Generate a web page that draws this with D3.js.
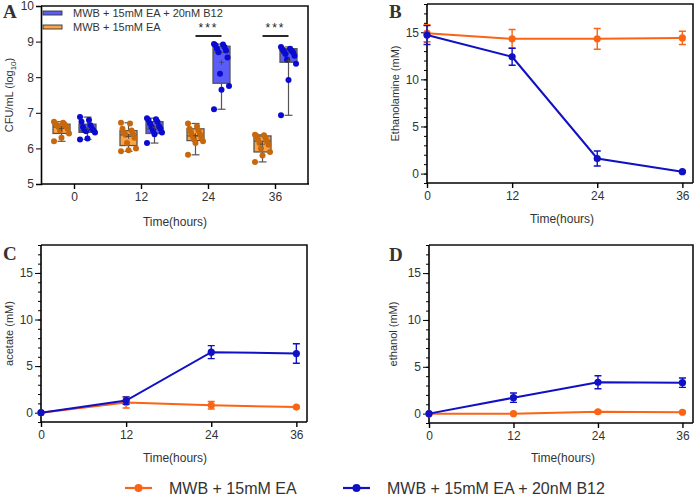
<!DOCTYPE html>
<html>
<head>
<meta charset="utf-8">
<script src="https://cdn.jsdelivr.net/npm/d3@7"></script>
<style>
  body { margin: 0; background: #fff; }
  svg { display: block; font-family: "Liberation Sans", Arial, sans-serif; }
</style>
</head>
<body>
<svg id="chart" width="700" height="498"></svg>
<script>
// time points (hours)
var times = [0, 12, 24, 36];
var seriesNames = ["MWB + 15mM EA", "MWB + 15mM EA + 20nM B12"];

// panel A box stats, log10 CFU/mL
var eaMin = [6.2, 5.92, 5.82, 5.62];
var eaQ1 = [6.42, 6.08, 6.22, 5.9];
var eaMed = [6.6, 6.38, 6.35, 6.2];
var eaQ3 = [6.68, 6.5, 6.55, 6.35];
var eaMax = [6.75, 6.72, 6.7, 6.38];
var b12Min = [6.25, 6.15, 7.1, 6.93];
var b12Q1 = [6.45, 6.42, 7.83, 8.42];
var b12Med = [6.5, 6.55, 8.7, 8.68];
var b12Q3 = [6.68, 6.75, 8.87, 8.8];
var b12Max = [6.88, 6.85, 8.93, 8.85];

// panel A individual replicates
var eaPoints = [
    [6.2, 6.3, 6.42, 6.5, 6.55, 6.6, 6.62, 6.65, 6.68, 6.7, 6.72, 6.75],
    [5.92, 5.95, 6.0, 6.15, 6.3, 6.38, 6.4, 6.45, 6.5, 6.55, 6.7, 6.72],
    [5.82, 6.15, 6.2, 6.25, 6.3, 6.35, 6.4, 6.45, 6.5, 6.55, 6.62, 6.7],
    [5.62, 5.8, 5.9, 6.0, 6.1, 6.15, 6.2, 6.25, 6.3, 6.35, 6.37, 6.38]
];
var b12Points = [
    [6.25, 6.28, 6.45, 6.48, 6.5, 6.52, 6.55, 6.6, 6.65, 6.75, 6.8, 6.88],
    [6.15, 6.4, 6.45, 6.5, 6.55, 6.6, 6.62, 6.7, 6.75, 6.8, 6.82, 6.85],
    [7.1, 7.65, 7.75, 8.1, 8.55, 8.7, 8.75, 8.8, 8.85, 8.9, 8.92, 8.93],
    [6.93, 7.92, 8.38, 8.5, 8.6, 8.65, 8.7, 8.72, 8.75, 8.78, 8.8, 8.85]
];
var signifTimes = [24, 36];

// panel B-D means and errors (mM)
var ethanolamineEA = [14.9, 14.3, 14.3, 14.4];
var ethanolamineEAErr = [0.9, 1.0, 1.1, 0.7];
var ethanolamineB12 = [14.7, 12.4, 1.6, 0.2];
var ethanolamineB12Err = [1.0, 0.9, 0.8, 0.1];
var acetateEA = [0, 1.1, 0.8, 0.6];
var acetateEAErr = [0, 0.6, 0.4, 0.1];
var acetateB12 = [0, 1.3, 6.5, 6.35];
var acetateB12Err = [0, 0.4, 0.7, 1.05];
var ethanolEA = [0, 0.0, 0.2, 0.15];
var ethanolEAErr = [0, 0, 0.1, 0.1];
var ethanolB12 = [0, 1.7, 3.35, 3.3];
var ethanolB12Err = [0, 0.5, 0.7, 0.5];

var orange = "#fa6414";
var blue = "#1010c4";

var svg = d3.select("#chart");

// ---------- panel A: box plots ----------
var aLeft = 41, aRight = 308, aTop = 6, aBottom = 184;

var xA = d3.scaleBand()
    .domain(times)
    .range([aLeft, aRight + 1]);
var subA = d3.scalePoint().domain(["ea", "b12"]).range([-13, 13]);
var yA = d3.scaleLinear().domain([5, 10]).range([aBottom, aTop]);

var gA = svg.append("g");

// frame top/right
gA.append("path")
    .attr("d", "M" + aLeft + "," + aTop + "H" + aRight + "V" + aBottom)
    .attr("fill", "none").attr("stroke", "#111").attr("stroke-width", 1.6);

gA.append("g")
    .attr("transform", "translate(" + aLeft + ",0)")
    .call(d3.axisLeft(yA).ticks(5).tickSize(5).tickPadding(2))
    .call(function (g) {
        g.select(".domain").attr("stroke-width", 1.6);
        g.selectAll("text").style("font-size", "12px").attr("fill", "#333");
    });

gA.append("g")
    .attr("transform", "translate(0," + aBottom + ")")
    .call(d3.axisBottom(xA).tickSize(5).tickPadding(3))
    .call(function (g) {
        g.select(".domain").attr("stroke-width", 1.6).attr("d", "M" + aLeft + ",0H" + (aRight + 1));
        g.selectAll("line").attr("stroke-width", 1.4);
        g.selectAll("text").style("font-size", "12px").attr("fill", "#333");
    });

var boxSeries = [
    { key: "ea", min: eaMin, q1: eaQ1, med: eaMed, q3: eaQ3, max: eaMax, pts: eaPoints, fill: "#fca443", dot: "#c8680c" },
    { key: "b12", min: b12Min, q1: b12Q1, med: b12Med, q3: b12Q3, max: b12Max, pts: b12Points, fill: "#5b5bf8", dot: "#0a0ad0" }
];

var boxW = 17;
boxSeries.forEach(function (s) {
    times.forEach(function (t, i) {
        var cx = xA(t) + xA.bandwidth() / 2 + subA(s.key);
        var g = gA.append("g");
        // whisker
        g.append("line")
            .attr("x1", cx).attr("x2", cx)
            .attr("y1", yA(s.min[i])).attr("y2", yA(s.max[i]))
            .attr("stroke", "#555").attr("stroke-width", 1.2);
        [s.min[i], s.max[i]].forEach(function (v) {
            g.append("line")
                .attr("x1", cx - 4).attr("x2", cx + 4)
                .attr("y1", yA(v)).attr("y2", yA(v))
                .attr("stroke", "#555").attr("stroke-width", 1.2);
        });
        g.append("rect")
            .attr("x", cx - boxW / 2)
            .attr("y", yA(s.q3[i]))
            .attr("width", boxW)
            .attr("height", yA(s.q1[i]) - yA(s.q3[i]))
            .attr("fill", s.fill)
            .attr("stroke", "#555").attr("stroke-width", 1.3);
        g.append("line")
            .attr("x1", cx - boxW / 2).attr("x2", cx + boxW / 2)
            .attr("y1", yA(s.med[i])).attr("y2", yA(s.med[i]))
            .attr("stroke", "#555").attr("stroke-width", 1.3);
        // jittered replicates
        g.selectAll("circle")
            .data(s.pts[i])
            .enter()
            .append("circle")
            .attr("cx", function (d, j) { return cx + ((j * 5) % 11 - 5) * 1.5; })
            .attr("cy", function (d) { return yA(d); })
            .attr("r", 3)
            .attr("fill", s.dot);
        // mean marker
        var m = d3.mean(s.pts[i]);
        g.append("path")
            .attr("d", "M" + (cx - 2.5) + "," + yA(m) + "H" + (cx + 2.5) + "M" + cx + "," + (yA(m) - 2.5) + "V" + (yA(m) + 2.5))
            .attr("stroke", "#444").attr("stroke-width", 0.8);
    });
});

// significance marks
signifTimes.forEach(function (t) {
    var cx = xA(t) + xA.bandwidth() / 2;
    gA.append("line")
        .attr("x1", cx - 13).attr("x2", cx + 13)
        .attr("y1", 36).attr("y2", 36)
        .attr("stroke", "#111").attr("stroke-width", 1.8);
    gA.append("text")
        .attr("x", cx).attr("y", 32)
        .attr("text-anchor", "middle")
        .style("font-size", "12px")
        .style("letter-spacing", "2px")
        .attr("fill", "#222")
        .text("***");
});

// panel A legend
var legA = [
    { name: seriesNames[1], fill: "#5b5bf8" },
    { name: seriesNames[0], fill: "#fca443" }
];
legA.forEach(function (d, i) {
    gA.append("rect")
        .attr("x", 43).attr("y", 11 + i * 14)
        .attr("width", 19).attr("height", 4)
        .attr("fill", d.fill)
        .attr("stroke", "#333").attr("stroke-width", 0.9);
    gA.append("text")
        .attr("x", 73).attr("y", 17 + i * 14)
        .style("font-size", "11px")
        .attr("fill", "#333")
        .text(d.name);
});

gA.append("text")
    .attr("x", 175).attr("y", 226)
    .attr("text-anchor", "middle")
    .style("font-size", "12px")
    .attr("fill", "#333")
    .text("Time(hours)");

var yLabA = gA.append("text")
    .attr("transform", "translate(13,95) rotate(-90)")
    .attr("text-anchor", "middle")
    .style("font-size", "11px")
    .attr("fill", "#333");
yLabA.append("tspan").text("CFU/mL (log");
yLabA.append("tspan").attr("dy", 3).style("font-size", "8px").text("10");
yLabA.append("tspan").attr("dy", -3).text(")");

// ---------- panels B-D: line plots ----------
function linePanel(p) {
    var x = d3.scaleLinear().domain([0, 37.5]).range([p.left, p.right]);
    var y = d3.scaleLinear().domain([-1, 18]).range([p.bottom, p.top]);
    var g = svg.append("g");

    g.append("path")
        .attr("d", "M" + p.left + "," + p.top + "H" + p.right + "V" + p.bottom)
        .attr("fill", "none").attr("stroke", "#111").attr("stroke-width", 1.6);

    // minor ticks every 1 mM
    g.append("g")
        .attr("transform", "translate(" + p.left + ",0)")
        .call(d3.axisLeft(y).tickValues(d3.range(-1, 19)).tickSize(3).tickFormat(""))
        .call(function (a) { a.select(".domain").remove(); });

    g.append("g")
        .attr("transform", "translate(" + p.left + ",0)")
        .call(d3.axisLeft(y).tickValues([0, 5, 10, 15]).tickSize(6).tickPadding(2))
        .call(function (a) {
            a.select(".domain").attr("stroke-width", 1.6).attr("d", "M0," + p.top + "V" + p.bottom);
            a.selectAll("text").style("font-size", "12px").attr("fill", "#333");
        });

    g.append("g")
        .attr("transform", "translate(0," + p.bottom + ")")
        .call(d3.axisBottom(x).tickValues(times).tickSize(5).tickPadding(3))
        .call(function (a) {
            a.select(".domain").attr("stroke-width", 1.6).attr("d", "M" + p.left + ",0H" + p.right);
            a.selectAll("line").attr("stroke-width", 1.4);
            a.selectAll("text").style("font-size", "12px").attr("fill", "#333");
        });

    var line = d3.line()
        .x(function (d) { return x(d.t); })
        .y(function (d) { return y(d.v); });

    [
        { vals: p.ea, errs: p.eaErr, color: orange },
        { vals: p.b12, errs: p.b12Err, color: blue }
    ].forEach(function (s) {
        var pts = times.map(function (t, i) { return { t: t, v: s.vals[i], e: s.errs[i] }; });
        g.append("path")
            .datum(pts)
            .attr("d", line)
            .attr("fill", "none")
            .attr("stroke", s.color)
            .attr("stroke-width", 2);
        g.selectAll(null)
            .data(pts.filter(function (d) { return d.e > 0; }))
            .enter()
            .append("path")
            .attr("d", function (d) {
                var cx = x(d.t), y1 = y(d.v + d.e), y2 = y(d.v - d.e);
                return "M" + cx + "," + y1 + "V" + y2 +
                    "M" + (cx - 3.5) + "," + y1 + "H" + (cx + 3.5) +
                    "M" + (cx - 3.5) + "," + y2 + "H" + (cx + 3.5);
            })
            .attr("fill", "none")
            .attr("stroke", s.color)
            .attr("stroke-width", 1.4);
        g.selectAll(null)
            .data(pts)
            .enter()
            .append("circle")
            .attr("cx", function (d) { return x(d.t); })
            .attr("cy", function (d) { return y(d.v); })
            .attr("r", 3.6)
            .attr("fill", s.color);
    });

    g.append("text")
        .attr("x", p.xLabelX).attr("y", p.xLabelY)
        .attr("text-anchor", "middle")
        .style("font-size", "12px")
        .attr("fill", "#333")
        .text("Time(hours)");

    g.append("text")
        .attr("transform", "translate(" + p.yLabelX + "," + ((p.top + p.bottom) / 2) + ") rotate(-90)")
        .attr("text-anchor", "middle")
        .style("font-size", "11px")
        .attr("fill", "#333")
        .text(p.yLabel);
}

linePanel({
    left: 427, right: 693, top: 4, bottom: 183,
    ea: ethanolamineEA, eaErr: ethanolamineEAErr, b12: ethanolamineB12, b12Err: ethanolamineB12Err,
    yLabel: "Ethanolamine (mM)", yLabelX: 399, xLabelX: 562, xLabelY: 223
});
linePanel({
    left: 41, right: 307, top: 245, bottom: 422,
    ea: acetateEA, eaErr: acetateEAErr, b12: acetateB12, b12Err: acetateB12Err,
    yLabel: "acetate (mM)", yLabelX: 13, xLabelX: 175, xLabelY: 462
});
linePanel({
    left: 429, right: 693, top: 245, bottom: 423,
    ea: ethanolEA, eaErr: ethanolEAErr, b12: ethanolB12, b12Err: ethanolB12Err,
    yLabel: "ethanol (mM)", yLabelX: 397, xLabelX: 563, xLabelY: 462
});

// panel letters
[["A", 3, 18], ["B", 389, 18], ["C", 3, 260], ["D", 389, 261]].forEach(function (d) {
    svg.append("text")
        .attr("x", d[1]).attr("y", d[2])
        .style("font-family", "'Liberation Serif', 'DejaVu Serif', serif")
        .style("font-weight", "bold")
        .style("font-size", "19px")
        .attr("fill", "#333")
        .text(d[0]);
});

// shared legend at the bottom
var legend = svg.append("g");
[
    { name: seriesNames[0], color: orange, x: 125 },
    { name: seriesNames[1], color: blue, x: 343 }
].forEach(function (d) {
    legend.append("line")
        .attr("x1", d.x).attr("x2", d.x + 27)
        .attr("y1", 488).attr("y2", 488)
        .attr("stroke", d.color).attr("stroke-width", 2.2);
    legend.append("circle")
        .attr("cx", d.x + 13.5).attr("cy", 488)
        .attr("r", 4).attr("fill", d.color);
    legend.append("text")
        .attr("x", d.x + 44).attr("y", 494)
        .style("font-size", "16px")
        .attr("fill", "#333")
        .text(d.name);
});
</script>
</body>
</html>
